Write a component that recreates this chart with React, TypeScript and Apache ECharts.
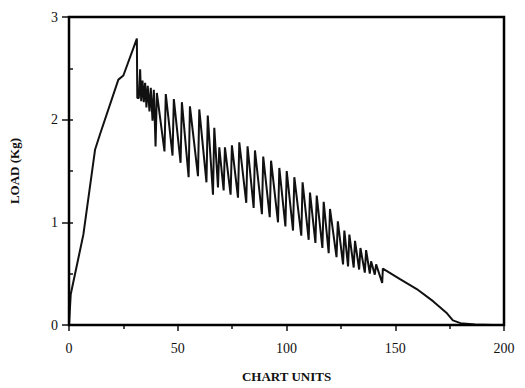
import React, { useEffect, useRef } from "react";
import * as echarts from "echarts";

// Initial loading ramp up to the peak
const riseX = [0, 0.8, 6.6, 12.0, 14.3, 22.7, 25.0, 31.2, 31.4];
const riseY = [0, 0.3, 0.88, 1.71, 1.86, 2.39, 2.43, 2.79, 2.21];

// Sawtooth (stick-slip) region: stroke position, top and bottom load
const toothX = [
  32.4, 33.5, 34.7, 35.9, 37.3, 38.7, 40.1, 44.2, 47.9, 51.6, 55.3, 59.6, 63.5,
  66.5, 68.8, 71.4, 74.6, 78.0, 81.8, 85.2, 89.0, 92.6, 96.4, 99.8, 103.3,
  107.1, 110.5, 113.6, 116.8, 119.7, 123.3, 126.3, 128.6, 131.2, 133.7, 136.3,
  138.6, 140.9,
];
const toothTop = [
  2.49, 2.38, 2.36, 2.33, 2.31, 2.29, 2.26, 2.25, 2.2, 2.17, 2.13, 2.1, 2.04,
  1.92, 1.73, 1.73, 1.75, 1.78, 1.74, 1.7, 1.64, 1.6, 1.53, 1.5, 1.44, 1.39,
  1.29, 1.26, 1.2, 1.13, 1.01, 0.92, 0.88, 0.82, 0.75, 0.73, 0.62, 0.59,
];
const toothBottom = [
  2.21, 2.18, 2.17, 2.12, 2.08, 1.99, 1.74, 1.69, 1.65, 1.58, 1.44, 1.45, 1.39,
  1.27, 1.34, 1.31, 1.27, 1.24, 1.19, 1.14, 1.08, 1.05, 1.0, 0.96, 0.92, 0.87,
  0.83, 0.8, 0.75, 0.7, 0.66, 0.59, 0.57, 0.56, 0.54, 0.51, 0.5, 0.49,
];

// Unloading tail
const tailX = [144.0, 144.3, 152, 159.9, 167.5, 173.5, 176.5, 180, 186.7, 195];
const tailY = [0.41, 0.55, 0.45, 0.35, 0.23, 0.12, 0.045, 0.018, 0.006, 0.0];

const xTicks = [0, 50, 100, 150, 200];
const yTicks = [0, 1, 2, 3];

function buildData(): number[][] {
  const pts: number[][] = [];
  riseX.forEach((x, i) => pts.push([x, riseY[i]]));
  toothX.forEach((x, i) => {
    pts.push([x - 0.3, toothBottom[i]]);
    pts.push([x + 0.3, toothTop[i]]);
  });
  tailX.forEach((x, i) => pts.push([x, tailY[i]]));
  return pts;
}

const INK = "#111";
const FONT = "Liberation Serif";
const GRID = { left: 69, right: 21, top: 17, bottom: 63 };
const W = 525;
const H = 388;

export default function App() {
  const ref = useRef<HTMLDivElement>(null);
  useEffect(() => {
    if (!ref.current) return;
    const chart = echarts.init(ref.current, undefined, { renderer: "svg" });
    chart.setOption({
      animation: false,
      backgroundColor: "#fff",
      grid: { ...GRID, show: false },
      graphic: [
        {
          type: "rect",
          silent: true,
          z: 100,
          shape: {
            x: GRID.left,
            y: GRID.top,
            width: W - GRID.left - GRID.right,
            height: H - GRID.top - GRID.bottom,
          },
          style: { fill: "none", stroke: "#000", lineWidth: 2.5 },
        },
      ],
      xAxis: {
        type: "value",
        min: xTicks[0],
        max: xTicks[xTicks.length - 1],
        interval: 50,
        name: "CHART UNITS",
        nameLocation: "middle",
        nameGap: 45,
        nameTextStyle: { fontFamily: FONT, fontSize: 13, fontWeight: "bold", color: INK },
        axisLine: { show: true, onZero: false, lineStyle: { color: INK, width: 2 } },
        axisTick: { show: true, length: 6, lineStyle: { color: INK, width: 1.5 } },
        minorTick: { show: true, splitNumber: 2, length: 4, lineStyle: { color: INK, width: 1.5 } },
        axisLabel: { fontFamily: FONT, fontSize: 14, color: INK, margin: 16 },
        splitLine: { show: false },
      },
      yAxis: [
        {
          type: "value",
          min: yTicks[0],
          max: yTicks[yTicks.length - 1],
          interval: 1,
          name: "LOAD (Kg)",
          nameLocation: "middle",
          nameGap: 48,
          nameTextStyle: { fontFamily: FONT, fontSize: 13, fontWeight: "bold", color: INK },
          axisLine: { show: true, onZero: false, lineStyle: { color: INK, width: 2 } },
          axisTick: { show: true, length: 7, lineStyle: { color: INK, width: 1.5 } },
          axisLabel: { fontFamily: FONT, fontSize: 14, color: INK, margin: 11 },
          splitLine: { show: false },
        },
        {
          type: "value",
          position: "left",
          offset: 0,
          min: 0,
          max: 3,
          interval: 0.5,
          axisLine: { show: false, onZero: false },
          axisTick: { show: true, inside: true, length: 4, lineStyle: { color: INK, width: 1.5 } },
          axisLabel: { show: false },
          splitLine: { show: false },
        },
      ],
      series: [
        {
          type: "line",
          data: buildData(),
          showSymbol: false,
          symbol: "none",
          lineStyle: { color: INK, width: 2 },
          xAxisIndex: 0,
          yAxisIndex: 0,
        },
      ],
    });
    return () => chart.dispose();
  }, []);
  return (
    <div
      ref={ref}
      style={{ position: "absolute", left: 0, top: 0, width: W, height: H }}
    />
  );
}
